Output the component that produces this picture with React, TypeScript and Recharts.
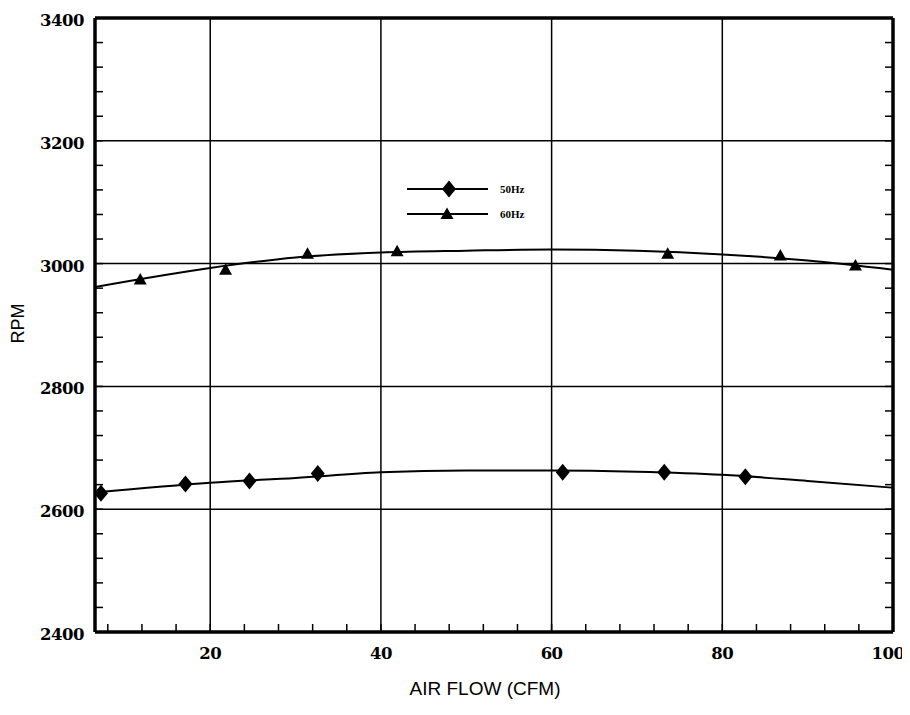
import React from "react";
import {
  ComposedChart, Line, Scatter, XAxis, YAxis, ReferenceLine, Legend,
} from "recharts";

// measured points (markers)
const HZ50_X = [7.2, 17.1, 24.6, 32.6, 61.3, 73.2, 82.7];
const HZ50_RPM = [2626, 2641, 2646, 2658, 2660, 2660, 2653];
const HZ60_X = [11.8, 21.8, 31.4, 41.9, 73.6, 86.8, 95.6];
const HZ60_RPM = [2974, 2990, 3016, 3020, 3016, 3013, 2997];

// fitted curves
const FIT_X = [6.5, 20, 30, 40, 50, 60, 70, 80, 90, 100];
const FIT50 = [2627, 2643, 2651, 2660, 2663, 2663, 2661, 2656, 2646, 2635];
const FIT60 = [2962, 2993, 3010, 3018, 3021, 3023, 3021, 3015, 3005, 2990];

const X_TICKS = [8, 12, 16, 20, 24, 28, 32, 36, 40, 44, 48, 52, 56, 60, 64, 68, 72, 76, 80, 84, 88, 92, 96, 100];
const Y_TICKS = [2400, 2440, 2480, 2520, 2560, 2600, 2640, 2680, 2720, 2760, 2800, 2840, 2880, 2920, 2960, 3000, 3040, 3080, 3120, 3160, 3200, 3240, 3280, 3320, 3360, 3400];
const X_GRID = [20, 40, 60, 80];
const Y_GRID = [2600, 2800, 3000, 3200];
const Y_LABELS = [2400, 2600, 2800, 3000, 3200, 3400];

const pts = (xs: number[], ys: number[]) => xs.map((x, i) => ({ x, y: ys[i] }));

const LABEL_FONT = { fontFamily: "'DejaVu Serif', serif", fontWeight: 700, fontSize: 16.5, fill: "#000", letterSpacing: -0.5 };

const Diamond = ({ cx, cy }: any) => (
  <polygon points={`${cx},${cy - 8.5} ${cx + 7},${cy} ${cx},${cy + 8.5} ${cx - 7},${cy}`} fill="#000" />
);
const Triangle = ({ cx, cy }: any) => (
  <polygon points={`${cx},${cy - 6.5} ${cx + 6.5},${cy + 5} ${cx - 6.5},${cy + 5}`} fill="#000" />
);

const BottomTick = ({ x, y, payload }: any) => (
  <g>
    <line x1={x} y1={y} x2={x} y2={y - 8} stroke="#000" strokeWidth={1.5} />
    {payload.value % 20 === 0 && (
      <text x={payload.value === 100 ? x - 5 : x} y={y + 27} textAnchor="middle" {...LABEL_FONT}>{payload.value}</text>
    )}
  </g>
);
const TopTick = ({ x, y }: any) => (
  <line x1={x} y1={y} x2={x} y2={y + 8} stroke="#000" strokeWidth={1.5} />
);
const LeftTick = ({ x, y, payload }: any) => (
  <g>
    <line x1={x} y1={y} x2={x + 8} y2={y} stroke="#000" strokeWidth={1.5} />
    {Y_LABELS.includes(payload.value) && (
      <text x={x - 11} y={y + 8} textAnchor="end" {...LABEL_FONT}>{payload.value}</text>
    )}
  </g>
);
const RightTick = ({ x, y }: any) => (
  <line x1={x} y1={y} x2={x - 8} y2={y} stroke="#000" strokeWidth={1.5} />
);

const SERIES = [
  { name: "50Hz", marker: Diamond },
  { name: "60Hz", marker: Triangle },
];

const LegendBox = () => (
  <svg width={130} height={45}>
    {SERIES.map((s, i) => {
      const y = 9 + i * 25;
      const M = s.marker;
      return (
        <g key={s.name}>
          <line x1={0} y1={y} x2={81} y2={y} stroke="#000" strokeWidth={2} />
          <M cx={i === 0 ? 42 : 40} cy={y} />
          <text x={93} y={y + 4} fontFamily="'Liberation Serif', serif" fontWeight={700} fontSize={11}>{s.name}</text>
        </g>
      );
    })}
  </svg>
);

const AXIS_LINE = { stroke: "#000", strokeWidth: 3.5 };

export default function App() {
  return (
    <div style={{ position: "relative", width: 910, height: 715, margin: -8, background: "#fff", overflow: "hidden" }}>
      <ComposedChart width={910} height={715} margin={{ top: 17, right: 16, left: 94, bottom: 82 }}
        style={{ overflow: "visible" }}>
        <XAxis xAxisId="b" type="number" dataKey="x" domain={[6.5, 100]} allowDataOverflow
          ticks={X_TICKS} interval={0} tickSize={0} tickMargin={0} height={1}
          axisLine={AXIS_LINE} tickLine={false} tick={<BottomTick />} />
        <XAxis xAxisId="t" type="number" orientation="top" domain={[6.5, 100]} allowDataOverflow
          ticks={X_TICKS} interval={0} tickSize={0} tickMargin={0} height={1}
          axisLine={AXIS_LINE} tickLine={false} tick={<TopTick />} />
        <YAxis yAxisId="l" type="number" domain={[2400, 3400]} allowDataOverflow
          ticks={Y_TICKS} interval={0} tickSize={0} tickMargin={0} width={1}
          axisLine={AXIS_LINE} tickLine={false} tick={<LeftTick />} />
        <YAxis yAxisId="r" type="number" orientation="right" domain={[2400, 3400]} allowDataOverflow
          ticks={Y_TICKS} interval={0} tickSize={0} tickMargin={0} width={1}
          axisLine={AXIS_LINE} tickLine={false} tick={<RightTick />} />

        {X_GRID.map((v) => (
          <ReferenceLine key={"x" + v} xAxisId="b" yAxisId="l" x={v} stroke="#000" strokeWidth={1.5} />
        ))}
        {Y_GRID.map((v) => (
          <ReferenceLine key={"y" + v} xAxisId="b" yAxisId="l" y={v} stroke="#000" strokeWidth={1.5} />
        ))}

        <Line xAxisId="b" yAxisId="l" data={pts(FIT_X, FIT50)} dataKey="y" type="monotone"
          stroke="#000" strokeWidth={2} dot={false} isAnimationActive={false} legendType="none" />
        <Line xAxisId="b" yAxisId="l" data={pts(FIT_X, FIT60)} dataKey="y" type="monotone"
          stroke="#000" strokeWidth={2} dot={false} isAnimationActive={false} legendType="none" />
        <Scatter xAxisId="b" yAxisId="l" name="50Hz" data={pts(HZ50_X, HZ50_RPM)} dataKey="y"
          shape={<Diamond />} isAnimationActive={false} />
        <Scatter xAxisId="b" yAxisId="l" name="60Hz" data={pts(HZ60_X, HZ60_RPM)} dataKey="y"
          shape={<Triangle />} isAnimationActive={false} />

        <Legend layout="horizontal" verticalAlign="middle" align="center" content={<LegendBox />}
          wrapperStyle={{ position: "absolute", left: 407, top: 180, width: 130, height: 45 }} />
      </ComposedChart>
      <div style={{ position: "absolute", left: 385, top: 678, width: 200, textAlign: "center",
        fontFamily: "'Liberation Sans', Arial, sans-serif", fontSize: 19 }}>
        AIR FLOW (CFM)
      </div>
      <div style={{ position: "absolute", left: -7, top: 313, width: 50, textAlign: "center",
        transform: "rotate(-90deg)", fontFamily: "'Liberation Sans', Arial, sans-serif", fontSize: 18 }}>
        RPM
      </div>
    </div>
  );
}
